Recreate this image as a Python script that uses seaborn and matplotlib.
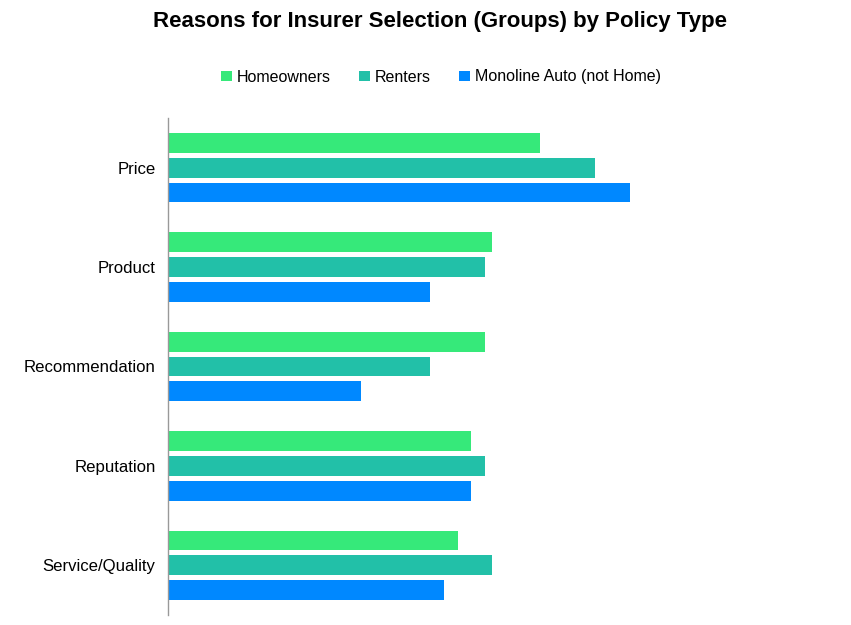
import matplotlib
matplotlib.use("Agg")
import matplotlib.pyplot as plt
import seaborn as sns
import pandas as pd

# chart data (percent)
reasons = ["Price", "Product", "Recommendation", "Reputation", "Service/Quality"]
policy_types = ["Homeowners", "Renters", "Monoline Auto (not Home)"]
homeowners = [54, 47, 46, 44, 42]
renters = [62, 46, 38, 46, 47]
monoline_auto = [67, 38, 28, 44, 40]

colors = ["#36E97A", "#22C0A8", "#0088FF"]

df = pd.DataFrame({
    "Reason": reasons * 3,
    "Policy": [p for p in policy_types for _ in reasons],
    "Share": homeowners + renters + monoline_auto,
})

sns.set_style("white")
plt.rcParams["font.family"] = ["Liberation Sans", "DejaVu Sans"]
plt.rcParams["text.color"] = "black"
plt.rcParams["ytick.color"] = "black"

fig = plt.figure(figsize=(8.51, 6.25), dpi=100)
ax = fig.add_axes([168 / 851, 10 / 625, 655 / 851, 497 / 625])

sns.barplot(data=df, y="Reason", x="Share", hue="Policy", order=reasons,
            hue_order=policy_types, palette=colors, orient="h",
            width=0.75, gap=0.2, saturation=1, linewidth=0, ax=ax, legend=True)

ax.set_xlim(0, 95)
ax.set_ylim(4.5, -0.5)
ax.set_xlabel("")
ax.set_ylabel("")
ax.set_xticks([])
ax.tick_params(axis="y", length=0, pad=9, labelsize=12.1, labelcolor="black")
for label in ax.get_yticklabels():
    label.set_y(label.get_position()[1])
for side in ["top", "right", "bottom"]:
    ax.spines[side].set_visible(False)
ax.spines["left"].set_color("#999999")
ax.spines["left"].set_linewidth(1)

handles, labels = ax.get_legend_handles_labels()
ax.get_legend().remove()
fig.legend(handles, labels, loc="center", bbox_to_anchor=(441 / 851, 1 - 77 / 625),
           ncol=3, frameon=False, fontsize=11.5, handlelength=0.65,
           handleheight=0.65, handletextpad=0.3, columnspacing=1.8)

fig.text(440 / 851, 1 - 22 / 625, "Reasons for Insurer Selection (Groups) by Policy Type",
         ha="center", va="center", fontsize=16, fontweight="bold", color="black")

fig.savefig("out.png", dpi=100)
